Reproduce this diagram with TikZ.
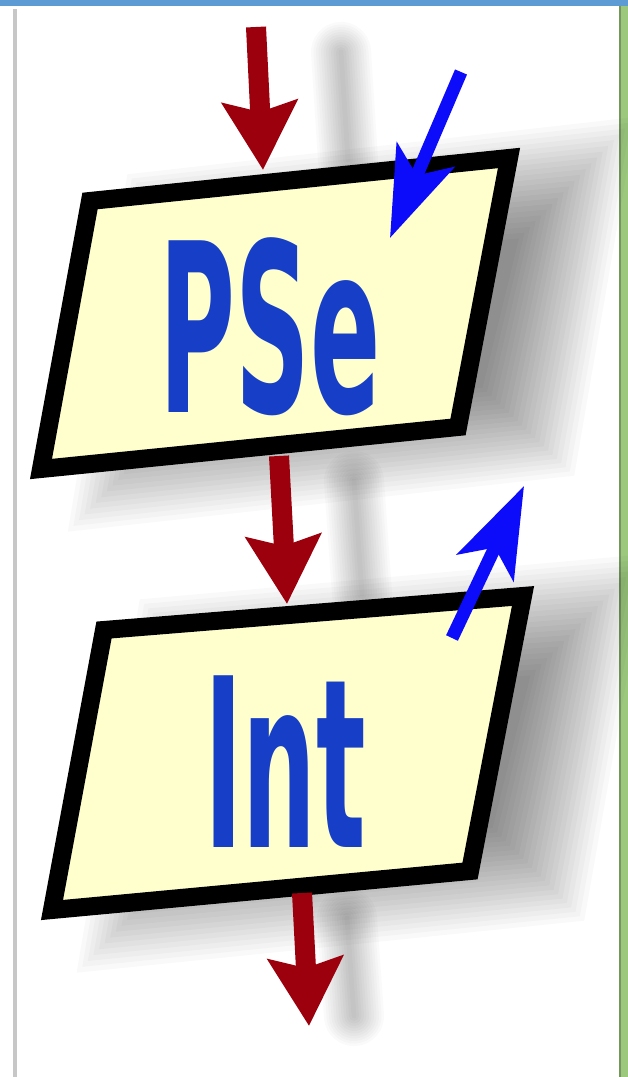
\documentclass[tikz,border=0pt]{standalone}
\usepackage{fontspec}
\newfontfamily\logofont{DejaVu Sans}
\usetikzlibrary{arrows.meta}

\definecolor{flowred}{RGB}{155,0,12}
\definecolor{flowblue}{RGB}{12,12,250}
\definecolor{textblue}{RGB}{22,62,198}
\definecolor{boxyellow}{RGB}{255,255,205}
\definecolor{barblue}{RGB}{92,155,212}
\definecolor{edgegreen}{RGB}{155,200,125}
\definecolor{edgeolive}{RGB}{118,150,96}

\begin{document}
\begin{tikzpicture}[
  x=0.01cm, y=-0.01cm,
  iobox/.style={draw=black, fill=boxyellow, line width=0.18cm, line join=miter},
  boxtext/.style={font=\logofont\bfseries\fontsize{67}{67}\selectfont, text=textblue, anchor=base, inner sep=0pt},
  flowarrow/.style={draw=flowred, line width=0.2cm, -{Stealth[width=0.74cm, length=0.68cm, inset=0.1cm]}},
  dataarrow/.style={draw=flowblue, line width=0.13cm, -{Stealth[width=0.62cm, length=0.9cm, inset=0.22cm]}},
  shadowlayer/.style={fill=black, opacity=0.022},
  arrowshadow/.style={draw=black, opacity=0.018, line cap=round}
]
\useasboundingbox (0,0) rectangle (628,1077);
\fill[white] (0,0) rectangle (628,1077);

% window frame
\fill[barblue] (0,0) rectangle (628,6);
\fill[black!22] (13,9) rectangle (17,1077);
\fill[edgegreen] (620,6) rectangle (628,1077);
\fill[edgeolive] (619,6) rectangle (621,1077);

% connector ends
\coordinate (start) at (256,27);
\coordinate (pse-top) at (263,170);
\coordinate (pse-bot) at (279,456);
\coordinate (int-top) at (287,604);
\coordinate (int-bot) at (302,893);
\coordinate (stop) at (309,1026);
\coordinate (read-from) at (461,72);
\coordinate (read-to) at (390,238);
\coordinate (write-from) at (452,638);
\coordinate (write-to) at (524,486);

% soft shadows
\begin{scope}[shift={(352,325)}]
\foreach \r in {-60,-55,...,45}
  \fill[shadowlayer, xscale={1+\r/210}, yscale={1+\r/135}]
    (-185,-113) -- (234,-156) -- (183,113) -- (-234,155) -- cycle;
\end{scope}
\begin{scope}[shift={(362,762)}]
\foreach \r in {-60,-55,...,45}
  \fill[shadowlayer, xscale={1+\r/210}, yscale={1+\r/135}]
    (-183,-122) -- (236,-156) -- (183,119) -- (-235,158) -- cycle;
\end{scope}
\foreach \w in {0.5mm,1mm,1.5mm,2mm,2.5mm,3mm,3.5mm,4mm,4.5mm,5mm,5.5mm,6mm} {
  \draw[arrowshadow, line width=\w] ([shift={(85,25)}]start) -- ([shift={(85,-10)}]pse-top);
  \draw[arrowshadow, line width=\w] ([shift={(75,25)}]pse-bot) -- ([shift={(75,-10)}]int-top);
  \draw[arrowshadow, line width=\w] ([shift={(45,25)}]int-bot) -- ([shift={(45,-10)}]stop);
}

% input boxes
\draw[iobox] (90,201) -- (509,158) -- (458,427) -- (41,469) -- cycle;
\draw[iobox] (104,630) -- (523,596) -- (470,871) -- (52,910) -- cycle;

\node[boxtext] (pse) at (270,413) {\scalebox{0.44}[1]{PSe}};
\node[boxtext] (int) at (285,847) {\scalebox{0.44}[1]{Int}};

% flow
\draw[flowarrow] (start) -- (pse-top);
\draw[flowarrow] (pse-bot) -- (int-top);
\draw[flowarrow] (int-bot) -- (stop);

% data in / out
\draw[dataarrow] (read-from) -- (read-to);
\draw[dataarrow] (write-from) -- (write-to);

\end{tikzpicture}
\end{document}
